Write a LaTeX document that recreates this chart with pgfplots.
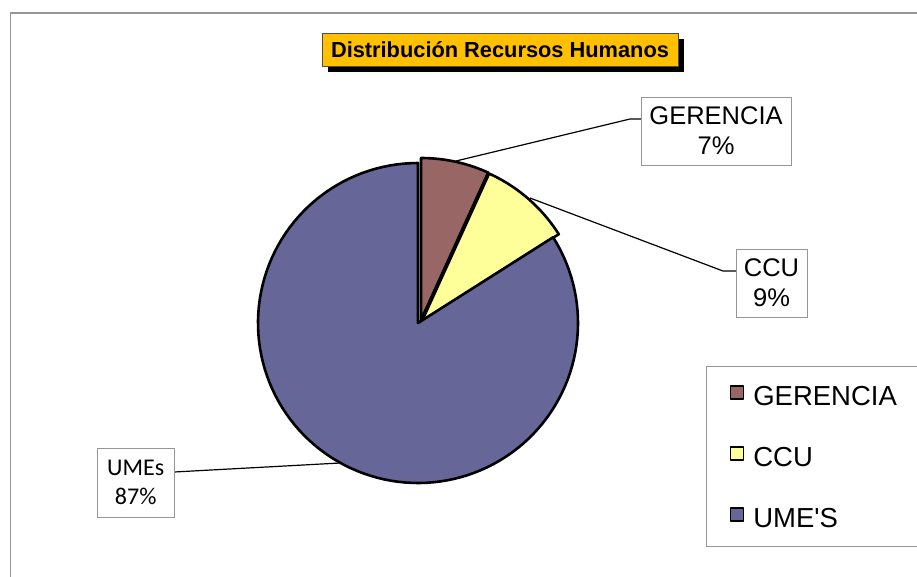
\documentclass[border=0pt]{standalone}
\usepackage{pgfplots}
\usepackage{pgfplotstable}
\pgfplotsset{compat=1.18}
\usepackage{fontspec}
\setmainfont{Liberation Sans}[Ligatures=TeXOff]
\newfontfamily\calib{Carlito}

\definecolor{cGer}{RGB}{153,102,102}
\definecolor{cCcu}{RGB}{255,255,153}
\definecolor{cUme}{RGB}{102,102,153}
\definecolor{cTitle}{RGB}{255,192,0}
\definecolor{cFrame}{RGB}{150,150,150}

% share of each group, in percent
\pgfplotstableread{
label pct
GERENCIA 6.8
CCU 9.2
UMES 84.0
}\piedata

\begin{document}
\begin{tikzpicture}
\pgfplotstablegetelem{0}{pct}\of\piedata \let\pA\pgfplotsretval
\pgfplotstablegetelem{1}{pct}\of\piedata \let\pB\pgfplotsretval
\pgfplotstablegetelem{2}{pct}\of\piedata \let\pC\pgfplotsretval
% slices run clockwise from 12 o'clock
\pgfmathsetmacro\aS{90}
\pgfmathsetmacro\aA{90-3.6*\pA}
\pgfmathsetmacro\aB{\aA-3.6*\pB}
\pgfmathsetmacro\aC{\aB-3.6*\pC}
\useasboundingbox (0,0) rectangle (917pt,576pt);
\begin{axis}[
    x=1pt, y=1pt, y dir=reverse,
    xmin=0, xmax=917, ymin=0, ymax=576,
    scale only axis, hide axis, clip=false,
    at={(0,0)}, anchor=south west,
    legend style={at={(axis cs:706,366)}, anchor=north west,
        draw=cFrame, line width=1pt, inner xsep=23pt, inner ysep=18.5pt,
        row sep=40pt, column sep=9pt,
        font=\fontsize{27.5}{30}\selectfont,
        nodes={inner sep=0pt, text height=20pt, text depth=0pt, anchor=west}},
    legend cell align=left,
    legend image code/.code={\draw[#1, line width=1.8pt] (0pt,-3pt) rectangle (13pt,10pt);},
]
\addplot[fill=cGer, draw=black, line width=2.6pt, line join=round, domain=\aA:\aS, samples=20]
    ({421+162*cos(x)}, {320-162*sin(x)}) -- (axis cs:421,320) -- cycle;
\addlegendentry{GERENCIA}
\addplot[fill=cCcu, draw=black, line width=2.6pt, line join=round, domain=\aB:\aA, samples=20]
    ({422+162*cos(x)}, {321-162*sin(x)}) -- (axis cs:422,321) -- cycle;
\addlegendentry{CCU}
\addplot[fill=cUme, draw=black, line width=2.6pt, line join=round, domain=\aC:\aB, samples=120]
    ({418+160*cos(x)}, {323-160*sin(x)}) -- (axis cs:418,323) -- cycle;
\addlegendentry{UME'S}

% chart frame
\draw[cFrame, line width=1.3pt] (axis cs:940,13) -- (axis cs:10.5,13) -- (axis cs:10.5,600);

% title with shadow
\fill[black] (axis cs:328,39) rectangle (axis cs:684,72);
\node[fill=cTitle, draw=gray!60!black, line width=0.8pt, minimum width=356pt, minimum height=33pt,
      inner sep=0pt, font=\fontsize{21.8}{24}\selectfont\bfseries] at (axis cs:500,49.5)
      {Distribución Recursos Humanos};

% leader lines
\draw[black, line width=1.2pt] (axis cs:456,161) -- (axis cs:630,119) -- (axis cs:641,119);
\draw[black, line width=1.2pt] (axis cs:530,198) -- (axis cs:723,271) -- (axis cs:736,271);
\draw[black, line width=1.2pt] (axis cs:174,472) -- (axis cs:340,463);

% data labels
\node[draw=cFrame, fill=white, line width=1pt, minimum width=150pt, minimum height=68pt, inner sep=0pt,
      align=center, font=\fontsize{25.5}{30}\selectfont] at (axis cs:716,131) {GERENCIA\\7\%};
\node[draw=cFrame, fill=white, line width=1pt, minimum width=71pt, minimum height=68pt, inner sep=0pt,
      align=center, font=\fontsize{25.5}{30}\selectfont] at (axis cs:771.5,283) {CCU\\9\%};
\node[draw=cFrame, fill=white, line width=1pt, minimum width=77pt, minimum height=69pt, inner sep=0pt,
      align=center, font=\calib\fontsize{24}{29}\selectfont] at (axis cs:135.7,482.8) {UMEs\\87\%};
\end{axis}
\end{tikzpicture}
\end{document}
